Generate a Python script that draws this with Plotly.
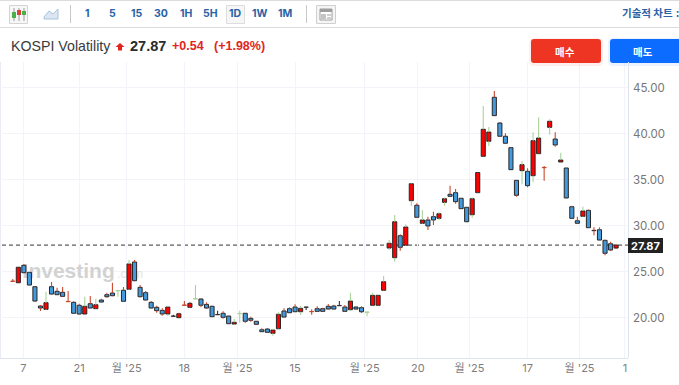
import plotly.graph_objects as go

# Candle values, left to right
body_top = [23.93,25.46,25.67,24.91,23.35,21.25,21.61,23.35,22.85,22.74,
            21.72,21.65,21.33,21.22,21.50,21.39,21.90,22.48,22.66,22.91,
            22.96,25.82,26.03,23.28,22.70,21.65,21.11,20.78,21.14,20.13,
            20.41,21.33,21.54,22.01,22.01,21.43,21.22,20.30,20.46,20.16,
            19.48,20.41,20.46,19.91,19.59,18.67,18.75,18.64,20.35,20.71,
            20.96,21.14,21.00,21.11,20.63,20.96,20.96,21.22,21.25,21.28,
            21.14,21.79,21.14,21.07,20.57,22.41,22.41,23.89,28.07,30.41,
            28.89,29.84,34.54,32.20,30.60,30.60,30.96,31.28,32.91,33.39,
            33.57,32.96,31.98,32.91,35.76,40.46,40.16,43.94,41.14,39.70,
            38.46,34.91,36.61,35.89,39.22,39.51,36.28,41.33,39.40,37.12,
            36.25,32.04,30.52,31.58,31.65,29.44,29.54,28.39,28.02,27.87]
body_bottom = [23.93,23.78,24.87,23.53,21.79,21.03,20.89,22.55,22.48,22.30,
               21.72,20.46,20.38,20.38,21.03,20.96,21.68,22.26,22.37,22.91,
               21.76,23.07,24.00,22.26,21.90,21.03,20.74,20.38,20.38,20.13,
               19.98,21.33,21.11,22.01,21.33,21.03,20.09,20.30,20.02,19.33,
               19.29,20.41,19.59,19.70,19.26,18.46,18.39,18.28,18.78,20.05,
               20.52,20.63,20.63,21.11,20.63,20.67,20.67,20.92,20.92,21.28,
               20.67,20.85,20.92,20.63,20.57,21.33,21.33,22.96,27.55,26.50,
               27.63,27.85,32.70,30.89,30.24,29.95,30.60,30.78,32.52,33.17,
               32.59,31.83,30.41,31.17,33.57,37.52,39.15,41.94,39.70,38.94,
               36.07,33.28,35.96,34.33,35.41,37.81,36.28,40.67,38.75,36.90,
               32.99,30.78,30.24,31.00,29.76,29.44,28.42,26.98,27.34,27.55]
high = [24.18,25.46,25.82,24.95,23.40,21.36,22.80,23.86,23.24,23.32,
        22.88,21.76,21.50,22.26,22.34,22.01,22.04,22.70,23.78,22.99,
        23.32,26.25,26.25,23.53,22.88,21.79,21.28,21.00,21.25,20.30,
        20.52,21.79,21.68,23.53,22.09,21.65,21.27,20.74,20.67,20.20,
        19.87,20.74,20.50,20.09,19.63,18.83,18.86,18.78,20.57,21.00,
        21.11,21.43,21.25,21.15,20.89,21.22,21.07,21.47,21.39,21.79,
        21.36,22.70,21.20,21.22,20.60,22.70,22.46,24.51,28.42,31.14,
        29.04,30.13,34.60,32.41,31.69,30.96,31.50,31.44,33.02,34.33,
        33.97,33.00,32.00,33.07,35.80,42.99,40.71,44.62,41.25,40.02,
        38.50,34.95,37.01,36.22,40.13,41.76,36.47,41.54,40.13,37.91,
        36.25,32.15,30.96,32.04,31.70,29.80,29.80,28.45,28.24,27.96]
low = [23.89,23.78,24.80,23.50,21.75,20.71,20.85,22.50,22.45,22.25,
       21.68,20.42,20.35,20.35,21.00,20.93,21.65,22.15,22.30,22.26,
       21.70,23.00,23.95,22.20,21.85,21.00,20.52,20.20,20.16,20.10,
       19.95,21.28,21.05,21.98,21.11,20.96,20.05,20.27,19.87,19.30,
       19.25,19.43,19.43,19.54,19.22,18.42,18.35,18.02,18.75,20.00,
       20.50,20.60,20.27,20.82,20.30,20.63,20.63,20.90,20.90,21.25,
       20.63,20.74,20.88,20.49,20.13,21.30,21.30,22.93,27.34,26.07,
       27.26,27.80,32.12,30.85,30.20,29.51,30.05,30.60,32.15,33.13,
       32.37,31.80,30.40,30.85,33.50,37.50,38.64,41.90,39.65,38.90,
       36.05,33.13,34.51,34.15,34.70,37.75,34.87,39.87,38.57,36.85,
       32.99,30.75,30.20,30.95,29.72,28.94,28.40,26.76,27.23,27.48]
direction = list("UUDDDDUDDD" "UDDUDUDDDU" "DUDDDDDDUU" "UUUUDDDUDD" "UUDDDDDUUD"
                 "DDUUUDDDDU" "DUDDUUUUUU" "DUUDUDDUUD" "DDDUUUUDDD" "DDUDUUUUDU"
                 "DDDUDDDDDU")
wick_kind = list("rrrrrrgrrr" "rrrgrgrrrg" "rgrrrrrrgk" "rrrgrrrkrr" "ggrrrrrggr"
                 "rrgkrrrrrk" "rgrrgggggg" "rggrgrrggr" "rrrggggrrr" "rrgrggrgrg"
                 "rrrgrrrrrr")
candle_index = list(range(len(body_top)))

y_ticks = [20, 25, 30, 35, 40, 45]
x_ticks = [1.9, 12, 20.6, 31, 40.6, 51, 63.6, 73.2, 82.5, 93, 102.4, 110.6]
x_labels = ["7", "21", "월 '25", "18", "월 '25", "15", "월 '25", "20", "월 '25", "17", "월 '25", "1"]
last_price = 27.87

W, H = 679, 385
L, R, T, B = 2, 51, 62, 27
PW, PH = W - L - R, H - T - B
X_RANGE = [-1.95, 111.15]
Y_RANGE = [15.6, 47.77]
UP, DOWN = "#ff0000", "#4499dc"
WICK = {"r": "#c9482f", "g": "#a9d39b", "k": "#333333"}
FONT = "Inter, 'Noto Sans CJK KR', sans-serif"
KR = "'Noto Sans CJK KR', sans-serif"
SANS = "'Liberation Sans', 'Noto Sans CJK KR', sans-serif"


def fx(p):
    return (p - L) / PW


def fy(p):
    return 1 - (p - T) / PH


fig = go.Figure()

# Watermark lives on the base axes so the candles paint over it
fig.add_trace(go.Scatter(x=[10.1, 21.2], y=[24.85, 24.6], mode="text", text=["<b>Investing</b>", ".com"],
                         textfont=dict(family=SANS, size=[21, 12], color=["#d2d2d2", "#e4e4e4"]),
                         textposition="middle center", hoverinfo="skip", showlegend=False, xaxis="x", yaxis="y"))

# Bodies
bar_lines = []
for d, k, t, b in zip(direction, wick_kind, body_top, body_bottom):
    if t == b:
        bar_lines.append("#222222" if d == "D" else WICK[k])
    else:
        bar_lines.append("#262626")
fig.add_trace(go.Bar(x=candle_index, y=[max(t - b, 0.03) for t, b in zip(body_top, body_bottom)],
                     base=body_bottom, width=0.74,
                     marker=dict(color=[UP if d == "U" else DOWN for d in direction],
                                 line=dict(color=bar_lines, width=1)),
                     hoverinfo="skip", showlegend=False, xaxis="x", yaxis="y2"))

# Wicks, outside the bodies
for kind, colour in WICK.items():
    xs, ys = [], []
    for i, k in enumerate(wick_kind):
        if k != kind:
            continue
        if high[i] > body_top[i]:
            xs += [i, i, None]
            ys += [body_top[i], high[i], None]
        if low[i] < body_bottom[i]:
            xs += [i, i, None]
            ys += [body_bottom[i], low[i], None]
    fig.add_trace(go.Scatter(x=xs, y=ys, mode="lines", line=dict(color=colour, width=1.1),
                             hoverinfo="skip", showlegend=False, xaxis="x", yaxis="y2"))

shapes = []


def rect(x0, y0, x1, y1, fill="rgba(0,0,0,0)", line=None, lw=1):
    shapes.append(dict(type="rect", xref="paper", yref="paper", x0=fx(x0), x1=fx(x1), y0=fy(y1), y1=fy(y0),
                       fillcolor=fill, line=dict(color=line or "rgba(0,0,0,0)", width=lw if line else 0)))


def hline(x0, x1, y, colour, lw=1):
    shapes.append(dict(type="line", xref="paper", yref="paper", x0=fx(x0), x1=fx(x1), y0=fy(y), y1=fy(y),
                       line=dict(color=colour, width=lw)))


def vline(x, y0, y1, colour, lw=1):
    shapes.append(dict(type="line", xref="paper", yref="paper", x0=fx(x), x1=fx(x), y0=fy(y0), y1=fy(y1),
                       line=dict(color=colour, width=lw)))


def round_rect(x0, y0, x1, y1, r, fill):
    p = lambda a, b: f"{fx(a)},{fy(b)}"
    path = (f"M{p(x0 + r, y0)} L{p(x1 - r, y0)} Q{p(x1, y0)} {p(x1, y0 + r)} L{p(x1, y1 - r)} "
            f"Q{p(x1, y1)} {p(x1 - r, y1)} L{p(x0 + r, y1)} Q{p(x0, y1)} {p(x0, y1 - r)} "
            f"L{p(x0, y0 + r)} Q{p(x0, y0)} {p(x0 + r, y0)} Z")
    shapes.append(dict(type="path", xref="paper", yref="paper", path=path, fillcolor=fill, line=dict(width=0)))


def poly(points, fill, line=None):
    body = " L".join(f"{fx(a)},{fy(b)}" for a, b in points)
    shapes.append(dict(type="path", xref="paper", yref="paper", path=f"M{body} Z", fillcolor=fill,
                       line=dict(color=line, width=1) if line else dict(width=0)))


# Toolbar frame
hline(0, 679, 0.5, "#dcdcdc", 1)
hline(0, 679, 27.5, "#dcdcdc", 1)
vline(70.5, 5, 23, "#c9c9c9")
vline(306.5, 5, 23, "#c9c9c9")
# Candle icon
rect(9.5, 5.5, 27.5, 23.5, "#f7f7f7", "#d4d4d4")
vline(14, 8, 21, "#9a9a9a")
vline(19, 8, 21, "#9a9a9a")
vline(24, 8, 21, "#9a9a9a")
rect(12, 12, 16, 18, "#49b04a")
rect(17, 10, 21, 15, "#d8433a")
rect(22, 11, 26, 15, "#49b04a")
# Area icon
poly([(44, 17), (49, 11), (53, 14), (58, 9), (58, 19), (44, 19)], "#dbe6f2", "#a9c3dc")
# 1D highlight
rect(226.5, 5.5, 244.5, 23.5, "#f6f6f6", "#dddddd")
# Table icon
rect(316.5, 5.5, 335.5, 23.5, "#f5f5f5", "#d0d0d0")
rect(320, 9, 332, 20, "#ffffff", "#9e9e9e")
rect(320, 9, 332, 12, "#9e9e9e")
rect(321, 14, 326, 19, "#c4c4c4")
hline(327, 331, 15, "#9e9e9e")
hline(327, 331, 18, "#9e9e9e")
# Trade buttons with a soft glow
round_rect(529, 38, 603, 66, 5, "rgba(238,53,36,0.08)")
round_rect(608, 38, 690, 66, 5, "rgba(11,108,255,0.08)")
round_rect(531, 39, 601, 63, 3, "#ee3524")
round_rect(610, 39, 685, 63, 3, "#0b6cff")
# Price arrow
poly([(120, 43), (124.5, 47), (122, 47), (122, 50.5), (118, 50.5), (118, 47), (115.5, 47)], "#e0261c")
# Frame of the plot
vline(628.5, 62, 358, "#dfe4ee")
hline(0, 628, 358.5, "#dfe4ee")
vline(0.5, 62, 358, "#e9ecf2")
# Last price line and box
shapes.append(dict(type="line", xref="paper", yref="y2", x0=0, x1=1, y0=last_price, y1=last_price,
                   layer="below", line=dict(color="#333333", width=1, dash="4px,3px")))
rect(628, 238, 663, 253, "#222222")

annotations = []


def label(x, y, text, size, colour, anchor="center", family=FONT):
    annotations.append(dict(xref="paper", yref="paper", x=fx(x), y=fy(y), text=text, showarrow=False,
                            xanchor=anchor, yanchor="middle", align=anchor, borderpad=0,
                            font=dict(family=family, size=size, color=colour)))


BTN = "#2a62a5"
for x, t in zip([87.5, 112, 136.5, 161, 186, 210.5, 235, 260, 285], ["1", "5", "15", "30", "1H", "5H", "1D", "1W", "1M"]):
    label(x, 13.5, f"<b>{t}</b>", 10.5, BTN)
label(647, 13, "<b>기술적 차트</b>", 10.5, BTN, family=KR)
label(677.5, 13, "<b>:</b>", 10, BTN, family=KR)
label(565, 51, "<b>매수</b>", 10.5, "#ffffff", family=KR)
label(643, 51, "<b>매도</b>", 10.5, "#ffffff", family=KR)
label(10, 46, "KOSPI Volatility", 14.2, "#3a3a3a", "left", SANS)
label(129, 46, "<b>27.87</b>", 14.5, "#2a2a2a", "left", SANS)
label(171, 46, "<b>+0.54</b>", 12.5, "#e0261c", "left", SANS)
label(213, 46, "<b>(+1.98%)</b>", 12.5, "#e0261c", "left", SANS)
label(645.5, 245.5, "<b>27.87</b>", 11, "#ffffff")

fig.update_layout(
    width=W, height=H, margin=dict(l=L, r=R, t=T, b=B, pad=0, autoexpand=False),
    paper_bgcolor="#ffffff", plot_bgcolor="#ffffff", showlegend=False, barmode="overlay",
    shapes=shapes, annotations=annotations,
    xaxis=dict(range=X_RANGE, tickmode="array", tickvals=x_ticks, ticktext=x_labels, ticks="", showline=False,
               zeroline=False, showgrid=True, gridcolor="#f2f4f9", gridwidth=1,
               tickfont=dict(family=FONT, size=11, color="#7d7d7d"), ticklabelstandoff=2),
    yaxis=dict(range=Y_RANGE, visible=False, fixedrange=True),
    yaxis2=dict(range=Y_RANGE, overlaying="y", side="right", tickmode="array", tickvals=y_ticks,
                ticktext=[f"{v:.2f}" for v in y_ticks], ticks="", showline=False, zeroline=False,
                showgrid=True, gridcolor="#f2f4f9", gridwidth=1,
                tickfont=dict(family=FONT, size=11.5, color="#767676"), ticklabelstandoff=4),
)

fig.write_html("out.html", config={"displayModeBar": False, "staticPlot": True},
               post_script="document.body.style.margin='0';document.body.style.overflow='hidden';")
